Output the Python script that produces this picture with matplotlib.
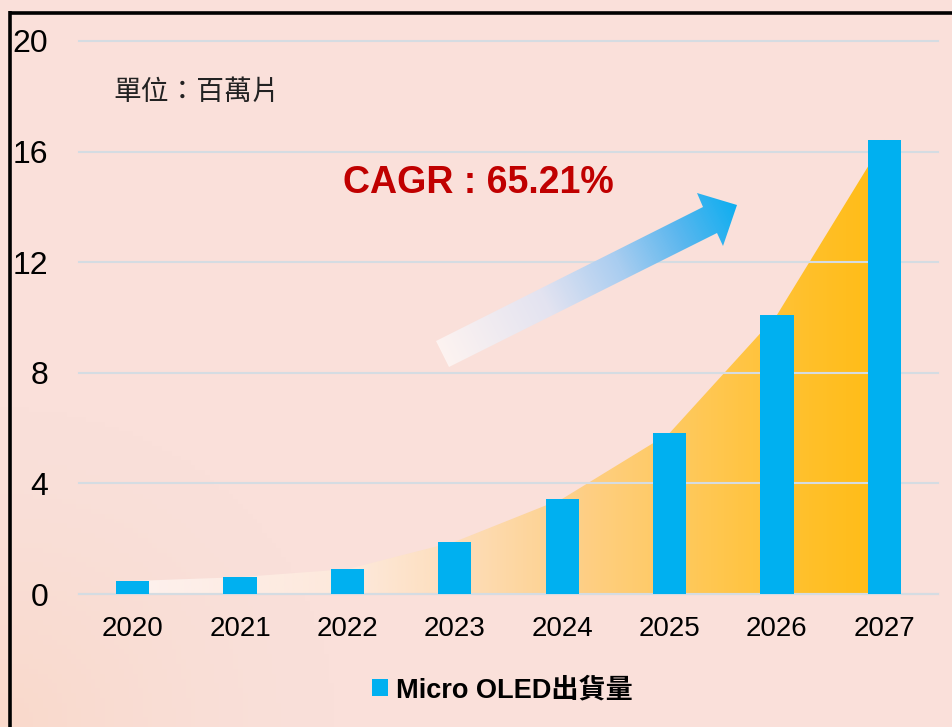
import numpy as np
import matplotlib
matplotlib.use("Agg")
import matplotlib.pyplot as plt
from matplotlib.colors import LinearSegmentedColormap
from matplotlib.patches import Patch, Polygon

plt.rcParams["font.family"] = ["Liberation Sans", "Noto Sans CJK TC"]

# data
years = ["2020", "2021", "2022", "2023", "2024", "2025", "2026", "2027"]
shipments = [0.47, 0.61, 0.90, 1.89, 3.44, 5.82, 10.09, 16.42]
y_ticks = [0, 4, 8, 12, 16, 20]
series_label = "Micro OLED出貨量"
unit_label = "單位：百萬片"
cagr_label = "CAGR : 65.21%"

W, H = 953, 727
BG = "#fadfd9"
BAR = "#00b0f0"
GRID = "#d5dce2"

fig = plt.figure(figsize=(W / 100, H / 100), dpi=100, facecolor=BG)

# background with a faint peach corner at bottom left
bg_ax = fig.add_axes([0, 0, 1, 1], zorder=0)
bg_ax.set_axis_off()
gx, gy = np.meshgrid(np.linspace(0, 1, 200), np.linspace(0, 1, 150))
corner = np.clip(1 - np.hypot(gx, gy * 0.8) / 0.35, 0, 1) ** 1.5
base = np.array([250, 224, 218]) / 255
peach = np.array([249, 217, 203]) / 255
bg = base + (peach - base) * corner[..., None]
bg_ax.imshow(bg, extent=[0, 1, 0, 1], origin="lower", aspect="auto")
bg_ax.set_xlim(0, 1)
bg_ax.set_ylim(0, 1)

ax = fig.add_axes([79 / W, (H - 594) / H, (938 - 79) / W, (594 - 41) / H], zorder=1)
ax.set_facecolor("none")
x = np.arange(len(years))

# gradient area under the trend
area = ax.fill_between(x, shipments, color="none", lw=0)
area_cmap = LinearSegmentedColormap.from_list(
    "area",
    [(0.0, "#fdf1ee"), (0.3, "#fde8da"), (0.45, "#fddcb5"), (0.6, "#fecf85"),
     (0.75, "#ffc857"), (0.9, "#ffc02a"), (1.0, "#ffbc14")],
)
grad = np.linspace(0, 1, 256).reshape(1, -1)
im = ax.imshow(grad, extent=[0, len(years) - 1, 0, max(shipments)], aspect="auto",
               cmap=area_cmap, origin="lower", zorder=1)
im.set_clip_path(area.get_paths()[0], transform=ax.transData)

ax.bar(x, shipments, width=0.31, color=BAR, zorder=3)

ax.set_xlim(-0.5, len(years) - 0.5)
ax.set_ylim(0, 20)
ax.set_yticks(y_ticks)
ax.set_yticklabels([str(t) for t in y_ticks], fontsize=23)
ax.set_xticks(x)
ax.set_xticklabels(years, fontsize=20)
ax.tick_params(axis="y", length=0, pad=22)
ax.tick_params(axis="x", length=0, pad=16)
ax.yaxis.grid(True, color=GRID, lw=1.5, zorder=2)
for gl in ax.get_ygridlines():
    gl.set_zorder(2)
    gl.set_clip_on(False)
for side in ["top", "right", "left"]:
    ax.spines[side].set_visible(False)
ax.spines["bottom"].set_color(GRID)
ax.spines["bottom"].set_linewidth(1.5)

# overlay in pixel coordinates for frame, arrow and text
ov = fig.add_axes([0, 0, 1, 1], zorder=2)
ov.set_axis_off()
ov.set_xlim(0, W)
ov.set_ylim(H, 0)

ov.plot([9, W], [12.5, 12.5], color="black", lw=2.6, solid_capstyle="butt")
ov.plot([10.5, 10.5], [11, H], color="black", lw=2.6, solid_capstyle="butt")

arrow_pts = [(436, 341), (703, 207), (697, 193), (737, 205),
             (723, 246), (717, 233), (449, 367)]
arrow = Polygon(arrow_pts, closed=True, facecolor="none", edgecolor="none")
ov.add_patch(arrow)
arrow_cmap = LinearSegmentedColormap.from_list(
    "arrow", [(0.0, "#fdf3f0"), (0.35, "#e3e3f0"), (0.6, "#a9cdf0"),
              (0.8, "#5cb7ee"), (1.0, "#0eaef0")]
)
ax_x, ax_y = np.meshgrid(np.arange(420, 750), np.arange(180, 380))
tail = np.array([442, 354])
tip = np.array([737, 205])
d = tip - tail
t = ((ax_x - tail[0]) * d[0] + (ax_y - tail[1]) * d[1]) / (d @ d)
aim = ov.imshow(np.clip(t, 0, 1), extent=[420, 750, 380, 180], cmap=arrow_cmap,
                origin="upper", aspect="auto")
aim.set_clip_path(arrow)
ov.set_xlim(0, W)
ov.set_ylim(H, 0)

ov.text(343, 183, cagr_label, color="#c00000", fontsize=27, fontweight="bold",
        ha="left", va="center")
ov.text(113, 93, unit_label, color="#222222", fontsize=20, ha="left", va="center")

fig.legend(handles=[Patch(facecolor=BAR, edgecolor="none")], labels=[series_label],
           loc="center", bbox_to_anchor=(0.527, 0.051), frameon=False,
           handlelength=0.6, handleheight=0.6, handletextpad=0.3,
           prop={"weight": "bold", "size": 19.5})

fig.savefig("out.png", dpi=100, facecolor=BG)
